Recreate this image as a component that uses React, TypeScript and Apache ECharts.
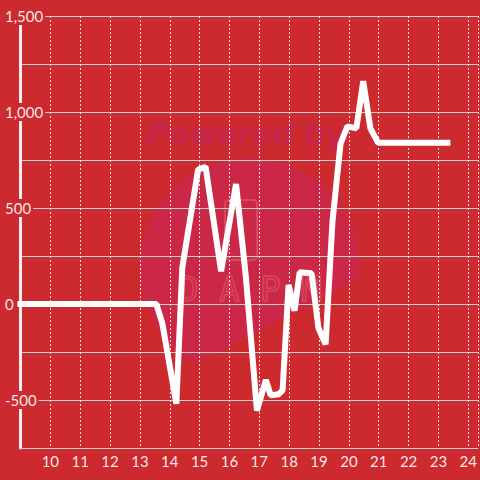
import React, { useEffect, useRef } from "react";
import * as echarts from "echarts";

const xValues = [9, 13.55, 13.75, 14.22, 14.42, 14.95, 15.2, 15.72, 16.22, 16.55, 16.92, 17.22, 17.38, 17.65, 17.78, 17.98, 18.18, 18.35, 18.75, 18.98, 19.22, 19.45, 19.72, 19.95, 20.25, 20.48, 20.72, 20.98, 23.3];
const yValues = [0, 0, -100, -520, 190, 700, 715, 170, 625, 140, -555, -395, -475, -470, -450, 100, -35, 165, 160, -125, -210, 430, 835, 925, 915, 1160, 915, 840, 840];
const xTickLabels = [10, 11, 12, 13, 14, 15, 16, 17, 18, 19, 20, 21, 22, 23, 24];
const yTickLabels = [-500, 0, 500, 1000, 1500];

const BG = "#cc2a2f";

function blobPoints(): number[][] {
  const cx = 250, cy = 268, r = 110;
  const pts: number[][] = [];
  for (let i = 0; i < 120; i++) {
    const a = (i / 120) * Math.PI * 2;
    const x = cx + r * Math.cos(a);
    const y = cy + r * Math.sin(a);
    const lineY = 368 + (x - 190) * ((288 - 368) / (350 - 190));
    if (y <= lineY) pts.push([x, y]);
  }
  return pts;
}

export default function App() {
  const ref = useRef<HTMLDivElement>(null);
  useEffect(() => {
    if (!ref.current) return;
    const chart = echarts.init(ref.current, undefined, { renderer: "svg" });
    const data = xValues.map((x, i) => [x, yValues[i]]);
    chart.setOption({
      animation: false,
      backgroundColor: BG,
      textStyle: { fontFamily: "Lato, 'Noto Sans', sans-serif" },
      grid: { left: 20.5, right: 0, top: 16, bottom: 32, containLabel: false },
      graphic: [
        { type: "polygon", z: -10, silent: true, shape: { points: blobPoints() }, style: { fill: "#cb2848" } },
        { type: "text", z: -9, silent: true, x: 246, y: 134, style: { text: "Powered by", fill: "#c6264a", font: "italic 900 30px 'DejaVu Sans', sans-serif", textAlign: "center", textVerticalAlign: "middle" } },
        { type: "rect", z: -9, silent: true, shape: { x: 225, y: 200, width: 32, height: 60, r: 4 }, style: { fill: "none", stroke: "rgba(240,110,120,0.45)", lineWidth: 2 } },
        { type: "text", z: -9, silent: true, x: 250, y: 289, style: { text: "D A P M", fill: "none", stroke: "rgba(240,110,120,0.45)", lineWidth: 1.5, font: "34px 'DejaVu Sans Mono', monospace", textAlign: "center", textVerticalAlign: "middle" } },
      ],
      xAxis: {
        type: "value",
        min: 9,
        max: 24.32,
        interval: 1,
        axisLine: { show: true, onZero: false, lineStyle: { color: "#cfcfcf", width: 1 } },
        axisTick: { show: false },
        axisLabel: {
          margin: 5,
          fontSize: 15,
          color: "rgba(255,255,255,0.9)",
          showMaxLabel: false,
          formatter: (v: number) => (xTickLabels.indexOf(Math.round(v * 1000) / 1000) >= 0 ? String(v) : ""),
        },
        splitLine: { show: true, lineStyle: { color: "rgba(255,255,255,0.85)", width: 1, type: [2, 2] } },
      },
      yAxis: {
        type: "value",
        min: -750,
        max: 1500,
        interval: 250,
        axisLine: { show: true, lineStyle: { color: "#f0f0f0", width: 3 } },
        axisTick: { show: false },
        axisLabel: {
          align: "left",
          margin: 17.5,
          fontSize: 15,
          lineHeight: 18,
          padding: [0, 2],
          backgroundColor: BG,
          color: "rgba(255,255,255,0.9)",
          formatter: (v: number) => (yTickLabels.indexOf(v) >= 0 ? v.toLocaleString("en-US") : ""),
        },
        splitLine: { show: true, lineStyle: { color: "#cfcfcf", width: 1 } },
      },
      series: [
        {
          type: "line",
          data,
          showSymbol: false,
          symbol: "none",
          clip: false,
          lineStyle: { color: "#ffffff", width: 6, join: "bevel", cap: "square" },
        },
      ],
    });
    return () => chart.dispose();
  }, []);
  return (
    <div
      ref={ref}
      style={{ position: "fixed", left: 0, top: 0, width: 480, height: 480, background: BG }}
    />
  );
}
